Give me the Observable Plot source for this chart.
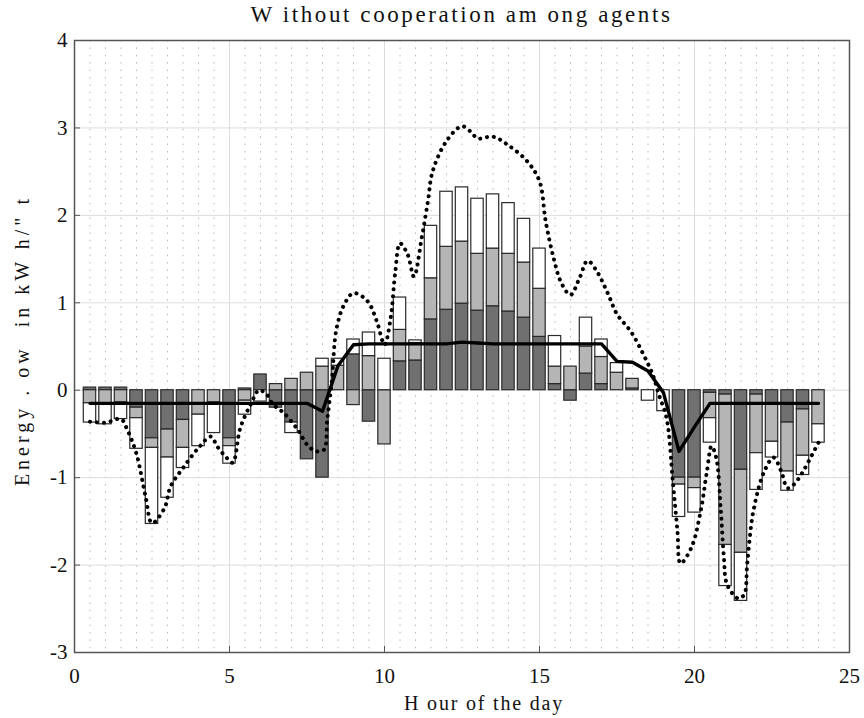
<!DOCTYPE html>
<html><head><meta charset="utf-8">
<script src="https://cdn.jsdelivr.net/npm/d3@7"></script>
<script src="https://cdn.jsdelivr.net/npm/@observablehq/plot@0.6"></script>
<style>
body{margin:0;background:#fff;}
#wrap{position:relative;width:864px;height:718px;}
#title{position:absolute;top:0;left:0;height:30px;width:864px;box-sizing:border-box;padding-left:59px;text-align:center;font-family:"Liberation Serif",serif;font-size:23px;letter-spacing:2.6px;line-height:30px;color:#111;z-index:2;}
</style></head><body>
<div id="wrap">
<div id="title">W ithout cooperation am ong agents</div>
<div id="chart"></div>
</div>
<script>
const hours = [0.5,1,1.5,2,2.5,3,3.5,4,4.5,5,5.5,6,6.5,7,7.5,8,8.5,9,9.5,10,10.5,11,11.5,12,12.5,13,13.5,14,14.5,15,15.5,16,16.5,17,17.5,18,18.5,19,19.5,20,20.5,21,21.5,22,22.5,23,23.5,24];
const darkValues  = [0.03,0.03,0.03,-0.2,-0.55,-0.45,-0.34,0,0,-0.55,0.02,0.18,-0.2,-0.37,-0.79,-1.0,0,0.41,-0.36,0,0.33,0.34,0.81,0.92,0.99,0.91,0.96,0.9,0.83,0.61,0.07,-0.12,0.19,0.07,0,0.02,0,0,-1.0,-1.0,-0.03,-0.05,-0.91,-0.05,-0.15,-0.37,-0.22,0];
const lightValues = [-0.15,-0.15,-0.14,-0.12,-0.11,-0.32,-0.32,-0.28,-0.14,-0.09,-0.12,0,0.07,0.13,0.2,0.27,0.28,-0.17,0.39,-0.62,0.36,0.2,0.47,0.72,0.71,0.65,0.66,0.66,0.63,0.55,0.2,0.27,0.31,0.31,0.2,0.11,0,0,-0.08,-0.12,-0.29,-1.72,-0.95,-0.67,-0.44,-0.56,-0.53,-0.39];
const whiteValues = [-0.22,-0.24,-0.19,-0.35,-0.87,-0.46,-0.23,-0.36,-0.35,-0.2,-0.16,-0.13,0,-0.12,0,0.09,0.08,0.17,0.27,0.36,0.37,0.03,0.6,0.63,0.62,0.63,0.62,0.58,0.5,0.46,0.35,0,0.33,0.2,0.11,0,-0.12,-0.24,-0.37,-0.28,-0.28,-0.47,-0.55,-0.42,-0.18,-0.22,-0.22,-0.21];
const seriesNames = ["dark","light","white"];
const seriesColors = ["#707070","#b5b5b5","#ffffff"];
const avgValues = [-0.15,-0.15,-0.15,-0.15,-0.15,-0.15,-0.15,-0.15,-0.15,-0.15,-0.15,-0.15,-0.15,-0.15,-0.15,-0.24,0.28,0.52,0.53,0.53,0.53,0.53,0.53,0.53,0.55,0.54,0.53,0.53,0.53,0.53,0.53,0.53,0.53,0.53,0.33,0.32,0.22,-0.03,-0.7,-0.42,-0.15,-0.15,-0.15,-0.15,-0.15,-0.15,-0.15,-0.15];
const dotHours  = [0.5,1.0,1.5,1.7,2.0,2.3,2.5,2.9,3.1,3.5,4.0,4.4,4.6,4.9,5.1,5.35,5.7,5.95,6.2,6.4,6.75,7.2,7.5,7.8,8.05,8.15,8.3,8.45,8.7,9.0,9.45,9.75,10.0,10.2,10.35,10.5,10.75,10.95,11.2,11.4,11.55,12.0,12.5,12.8,13.0,13.5,14.0,14.6,15.0,15.2,15.45,15.7,16.0,16.3,16.55,16.85,17.2,17.5,17.95,18.35,18.65,18.85,19.1,19.3,19.45,19.55,19.9,20.2,20.4,20.55,20.7,20.85,20.95,21.05,21.4,21.6,21.7,21.9,22.25,22.55,22.8,23.0,23.2,23.5,23.85,24.0];
const dotValues = [-0.36,-0.37,-0.33,-0.45,-0.73,-1.23,-1.52,-1.35,-1.1,-0.89,-0.66,-0.53,-0.64,-0.77,-0.83,-0.43,-0.15,0.0,-0.05,-0.16,-0.26,-0.45,-0.62,-0.7,-0.68,-0.35,0.1,0.7,0.98,1.11,1.02,0.79,0.52,0.83,1.36,1.68,1.55,1.3,1.74,2.16,2.5,2.85,3.02,2.95,2.88,2.9,2.8,2.62,2.39,1.93,1.52,1.23,1.09,1.29,1.48,1.36,1.11,0.87,0.67,0.41,0.18,-0.05,-0.32,-1.04,-1.61,-1.98,-1.8,-1.38,-0.93,-0.64,-0.77,-1.38,-1.92,-2.22,-2.38,-2.34,-1.99,-1.38,-0.93,-0.77,-0.93,-1.12,-1.08,-0.93,-0.7,-0.6];
const xTicks = [0,5,10,15,20,25];
const yTicks = [-3,-2,-1,0,1,2,3,4];
const xLabel = "H our of the day";
const yLabel = "Energy . ow  in kW h/\" t";

const barRows = hours.flatMap((h, i) => [
  {hour: h, series: seriesNames[0], value: darkValues[i]},
  {hour: h, series: seriesNames[1], value: lightValues[i]},
  {hour: h, series: seriesNames[2], value: whiteValues[i]}
]);
const avgRows = hours.map((h, i) => ({h, v: avgValues[i]}));
const dotRows = dotHours.map((h, i) => ({h, v: dotValues[i]}));
const minorX = d3.range(0.5, 25, 0.5);
const fmt = d => (d < 0 ? "-" : "") + Math.abs(d);

const chart = Plot.plot({
  width: 864, height: 718,
  marginTop: 40, marginLeft: 74, marginRight: 15, marginBottom: 66,
  x: {domain: [0, 25]},
  y: {domain: [-3, 4]},
  color: {domain: seriesNames, range: seriesColors},
  style: {fontFamily: "Liberation Serif, serif", fontSize: "21px", color: "#111", background: "transparent"},
  marks: [
    Plot.gridX(minorX, {stroke: "#b8b8b8", strokeOpacity: 1, strokeDasharray: "1.5,5.9"}),
    Plot.gridX(xTicks, {stroke: "#dcdcdc", strokeOpacity: 1}),
    Plot.gridY(yTicks, {stroke: "#dcdcdc", strokeOpacity: 1}),
    Plot.rect(barRows, Plot.stackY({x: "hour", x1: d => d.hour - 0.2, x2: d => d.hour + 0.2, y: "value", fill: "series", stroke: "#2a2a2a", strokeWidth: 1.2})),
    Plot.line(dotRows, {x: "h", y: "v", stroke: "#000", strokeWidth: 4, strokeLinecap: "round", strokeDasharray: "0.1,6.8", curve: "catmull-rom"}),
    Plot.line(avgRows, {x: "h", y: "v", stroke: "#000", strokeWidth: 3.4, curve: "linear"}),
    Plot.frame({stroke: "#555", strokeWidth: 1.5}),
    Plot.axisX(xTicks, {tickSize: -6, tickPadding: 22, label: null, stroke: "#555", tickFormat: fmt, fontSize: 21}),
    Plot.axisY(yTicks, {tickSize: -6, tickPadding: 13, label: null, stroke: "#555", tickFormat: fmt, fontSize: 21}),
    Plot.text([xLabel], {text: d => d, frameAnchor: "bottom", dy: 57, dx: 22, fontSize: 20}),
    Plot.text([yLabel], {text: d => d, frameAnchor: "left", textAnchor: "middle", dx: -52, dy: -6, rotate: -90, fontSize: 20})
  ]
});
d3.select(chart).selectAll("text").filter(function() { return this.textContent === xLabel; }).attr("letter-spacing", 1.8);
d3.select(chart).selectAll("text").filter(function() { return this.textContent === yLabel; }).attr("letter-spacing", 4);
document.getElementById("chart").appendChild(chart);
</script>
</body></html>
